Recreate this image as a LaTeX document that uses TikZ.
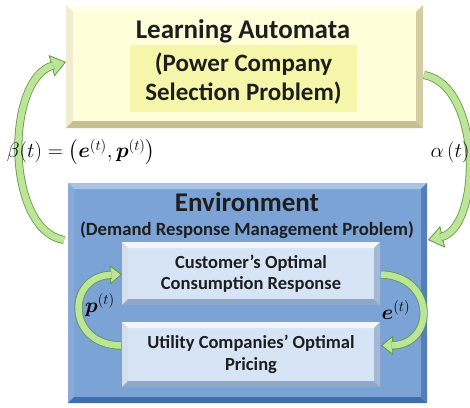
\RequirePackage{fix-cm}
\documentclass[tikz,border=0pt]{standalone}
\usepackage{fontspec}
\setmainfont{Carlito}
\usepackage{amsmath,bm}
\usetikzlibrary{arrows.meta,calc}
\definecolor{laface}{HTML}{FEFED8}
\definecolor{lalight}{HTML}{FFFFEE}
\definecolor{ladark}{HTML}{C9BF8E}
\definecolor{lahl}{HTML}{F6F6AA}
\definecolor{envface}{HTML}{7BA3D6}
\definecolor{envlight}{HTML}{A8C3E6}
\definecolor{envdark}{HTML}{406EAA}
\definecolor{inface}{HTML}{D6E4F5}
\definecolor{inlight}{HTML}{F2F6FC}
\definecolor{indark}{HTML}{8EA8CB}
\definecolor{txt}{HTML}{1E1E1E}
\definecolor{glight}{HTML}{BDE59A}
\definecolor{gdark}{HTML}{5E9A3A}
\tikzset{
  bevel/.style n args={4}{fill=#2, path picture={
    \fill[#3] (path picture bounding box.north west) -- (path picture bounding box.north east)
      -- ($(path picture bounding box.north east)+(-#1,#1)$) -- ($(path picture bounding box.north west)+(#1,#1)$) -- cycle;
    \fill[#3!70!#4] (path picture bounding box.north west) -- (path picture bounding box.south west)
      -- ($(path picture bounding box.south west)+(#1,-#1)$) -- ($(path picture bounding box.north west)+(#1,#1)$) -- cycle;
    \fill[#4] (path picture bounding box.south west) -- (path picture bounding box.south east)
      -- ($(path picture bounding box.south east)+(-#1,-#1)$) -- ($(path picture bounding box.south west)+(#1,-#1)$) -- cycle;
    \fill[#4!80!#3] (path picture bounding box.north east) -- (path picture bounding box.south east)
      -- ($(path picture bounding box.south east)+(-#1,-#1)$) -- ($(path picture bounding box.north east)+(-#1,#1)$) -- cycle;
  }},
  gtip/.style n args={2}{draw=gdark, line width=0.8pt, -{Triangle[length=#1,width=#2,fill=glight]}},
  gshaft/.style n args={2}{draw=gdark, line width=0.8pt, double=glight, double distance=#1, shorten >=#2},
  ttl/.style={font=\bfseries\fontsize{27}{30}\selectfont, text=txt},
  sub/.style={font=\bfseries\fontsize{18.7}{22}\selectfont, text=txt},
  inbox/.style={bevel={6}{inface}{inlight}{indark}, minimum width=258pt, align=center,
    font=\bfseries\fontsize{18.5}{21.5}\selectfont, text=txt},
  lbl/.style={font=\fontsize{21}{24}\selectfont},
}
\begin{document}
\begin{tikzpicture}[x=1pt,y=-1pt, every node/.style={inner sep=0pt, outer sep=0pt}]
\useasboundingbox (0,0) rectangle (470,407);
\fill[white] (0,0) rectangle (470,407);
% Learning Automata box
\node[bevel={7}{laface}{lalight}{ladark}, minimum width=357pt, minimum height=123pt] (la) at (244.5,66.5) {};
\node[fill=lahl, minimum width=227pt, minimum height=67pt] (hl) at (243.5,78.5) {};
\node[ttl] (lat) at (243,31) {Learning Automata};
\node[ttl, font=\bfseries\fontsize{25}{29}\selectfont, align=center] (lap) at (243.5,78.5) {(Power Company\\Selection Problem)};
% Environment box
\node[bevel={6}{envface}{envlight}{envdark}, minimum width=359pt, minimum height=220pt] (env) at (247.5,293) {};
\node[ttl] (envt) at (247,202) {Environment};
\node[sub] (envs) at (247,230) {(Demand Response Management Problem)};
\node[inbox, minimum height=63pt] (c1) at (251,273.5) {Customer’s Optimal\\Consumption Response};
\node[inbox, minimum height=65pt] (c2) at (251,354.5) {Utility Companies’ Optimal\\Pricing};
% coordinates for arrow ends
\coordinate (b0) at ($(env.north west)+(-4,57)$);
\coordinate (b1) at ($(la.north west)+(0,57)$);
\coordinate (a0) at ($(la.north east)+(1,70)$);
\coordinate (a1) at ($(env.north east)+(1,57)$);
\coordinate (p0) at ($(c2.west)+(-1,-9)$);
\coordinate (p1) at ($(c1.west)+(0,1)$);
\coordinate (e0) at ($(c1.east)+(1,1)$);
\coordinate (e1) at ($(c2.east)+(1,-9)$);
% big arrows
\draw[gtip={15pt}{22pt}] (b0) .. controls (5,230) and (5,78) .. (b1);
\draw[gshaft={6.5pt}{13pt}] (b0) .. controls (5,230) and (5,78) .. (b1);
\draw[gtip={15pt}{22pt}] (a0) .. controls (482,85) and (482,228) .. (a1);
\draw[gshaft={6.5pt}{13pt}] (a0) .. controls (482,85) and (482,228) .. (a1);
% small arrows
\draw[gtip={12pt}{19pt}] (p0) .. controls (66,345) and (66,276) .. (p1);
\draw[gshaft={6.5pt}{10.5pt}] (p0) .. controls (66,345) and (66,276) .. (p1);
\draw[gtip={12pt}{19pt}] (e0) .. controls (436,276) and (436,345) .. (e1);
\draw[gshaft={6.5pt}{10.5pt}] (e0) .. controls (436,276) and (436,345) .. (e1);
% labels
\node[lbl] (beta) at (81,152) {$\beta(t)=\left(\bm{e}^{(t)},\bm{p}^{(t)}\right)$};
\node[lbl] (alpha) at (450,152) {$\alpha\left(t\right)$};
\node[lbl] (pl) at (100,305) {$\bm{p}^{(t)}$};
\node[lbl] (el) at (396,310) {$\bm{e}^{(t)}$};
\end{tikzpicture}
\end{document}
